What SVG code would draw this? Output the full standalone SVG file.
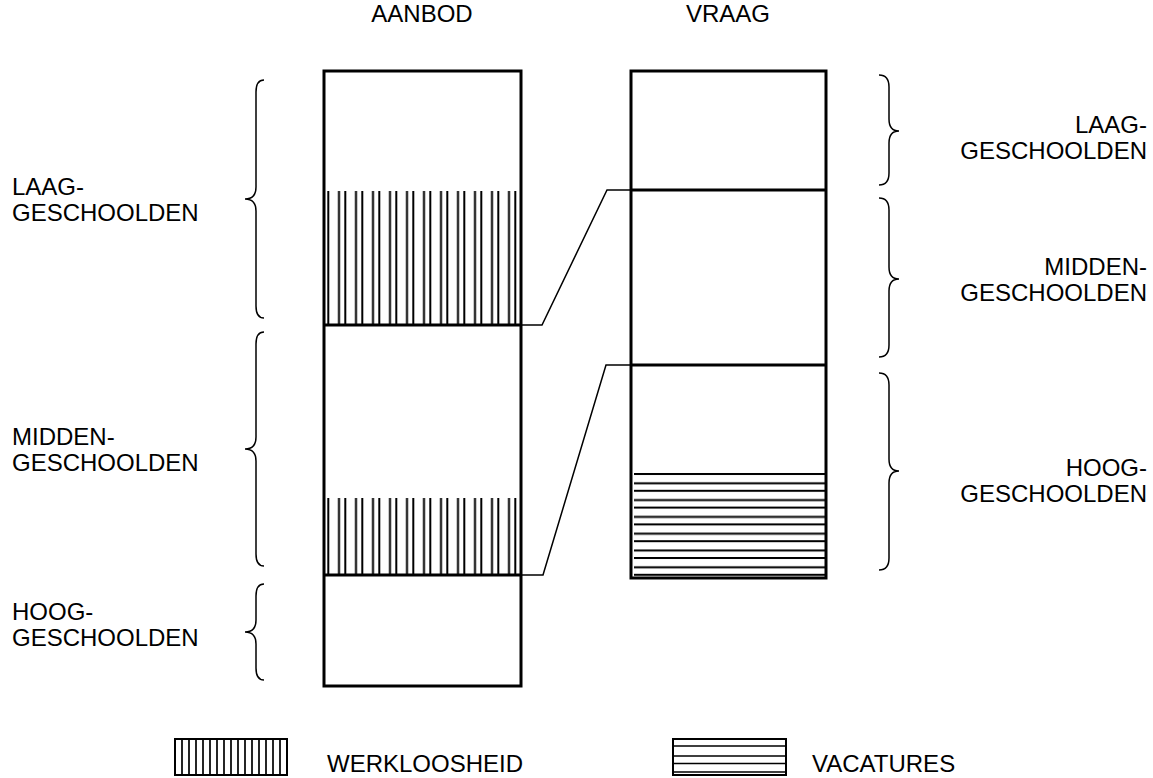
<svg xmlns="http://www.w3.org/2000/svg" width="1153" height="778" viewBox="0 0 1153 778">
<defs>
<style>
text{font-family:"Liberation Sans",Arial,sans-serif;font-size:24px;fill:#000}
.box{fill:none;stroke:#000;stroke-width:3}
.div{stroke:#000;stroke-width:3}
.br{fill:none;stroke:#000;stroke-width:1.5}
.con{fill:none;stroke:#000;stroke-width:1.5}
.end{text-anchor:end}
.mid{text-anchor:middle}
</style>
<pattern id="vh" x="327.3" y="0" width="17" height="20" patternUnits="userSpaceOnUse">
<rect x="0" y="0" width="2" height="20" fill="#000"/>
<rect x="10.7" y="0" width="2" height="20" fill="#000"/>
</pattern>
<pattern id="hh" x="0" y="473" width="20" height="16.8" patternUnits="userSpaceOnUse">
<rect x="0" y="0" width="20" height="2" fill="#000"/>
<rect x="0" y="9.3" width="20" height="2" fill="#000"/>
</pattern>
</defs>
<rect width="1153" height="778" fill="#fff"/>

<g id="titles">
<text class="mid" x="422" y="22">AANBOD</text>
<text class="mid" x="728" y="22">VRAAG</text>
</g>

<g id="aanbod">
<rect x="327" y="191" width="191" height="134" fill="url(#vh)"/>
<rect x="327" y="498" width="191" height="77" fill="url(#vh)"/>
<rect class="box" x="324" y="71" width="197" height="615"/>
<line class="div" x1="324" y1="325" x2="521" y2="325"/>
<line class="div" x1="324" y1="575" x2="521" y2="575"/>
</g>

<g id="vraag">
<rect x="634" y="473" width="191" height="104" fill="url(#hh)"/>
<rect class="box" x="631" y="71" width="195" height="507"/>
<line class="div" x1="631" y1="190" x2="826" y2="190"/>
<line class="div" x1="631" y1="365" x2="826" y2="365"/>
</g>

<g id="connectors">
<path class="con" d="M521,325 H542 L607,190 H631"/>
<path class="con" d="M521,575 H543 L606,365 H631"/>
</g>

<g id="left-labels">
<path class="br" d="M264,80 Q256,80 256,92 L256,187 Q256,199 245,199 Q256,199 256,211 L256,306 Q256,318 264,318"/>
<text x="12" y="195">LAAG-</text>
<text x="12" y="221">GESCHOOLDEN</text>
<path class="br" d="M264,332 Q256,332 256,344 L256,437 Q256,449 245,449 Q256,449 256,461 L256,554 Q256,566 264,566"/>
<text x="12" y="445">MIDDEN-</text>
<text x="12" y="471">GESCHOOLDEN</text>
<path class="br" d="M264,584 Q256,584 256,596 L256,620 Q256,632 245,632 Q256,632 256,644 L256,668 Q256,680 264,680"/>
<text x="12" y="620">HOOG-</text>
<text x="12" y="646">GESCHOOLDEN</text>
</g>

<g id="right-labels">
<path class="br" d="M879,75 Q889,75 889,87 L889,119 Q889,131 899,131 Q889,131 889,143 L889,173 Q889,185 879,185"/>
<text class="end" x="1147" y="133">LAAG-</text>
<text class="end" x="1147" y="159">GESCHOOLDEN</text>
<path class="br" d="M879,198 Q889,198 889,210 L889,267 Q889,279 899,279 Q889,279 889,291 L889,345 Q889,357 879,357"/>
<text class="end" x="1147" y="275">MIDDEN-</text>
<text class="end" x="1147" y="301">GESCHOOLDEN</text>
<path class="br" d="M879,373 Q889,373 889,385 L889,459 Q889,471 899,471 Q889,471 889,483 L889,558 Q889,570 879,570"/>
<text class="end" x="1147" y="476">HOOG-</text>
<text class="end" x="1147" y="502">GESCHOOLDEN</text>
</g>

<g id="legend-werkloosheid">
<rect x="175" y="739" width="112" height="36" fill="none" stroke="#000" stroke-width="2"/>
<path d="M182,739V775M189,739V775M196,739V775M203,739V775M210,739V775M217,739V775M224,739V775M231,739V775M238,739V775M245,739V775M252,739V775M259,739V775M266,739V775M273,739V775M280,739V775" stroke="#000" stroke-width="1.7"/>
<text x="327" y="772">WERKLOOSHEID</text>
</g>

<g id="legend-vacatures">
<rect x="673" y="739" width="113" height="36" fill="none" stroke="#000" stroke-width="2"/>
<path d="M673,746H786M673,756H786M673,763.5H786M673,772H786" stroke="#000" stroke-width="1.7"/>
<text x="812" y="772">VACATURES</text>
</g>
</svg>
